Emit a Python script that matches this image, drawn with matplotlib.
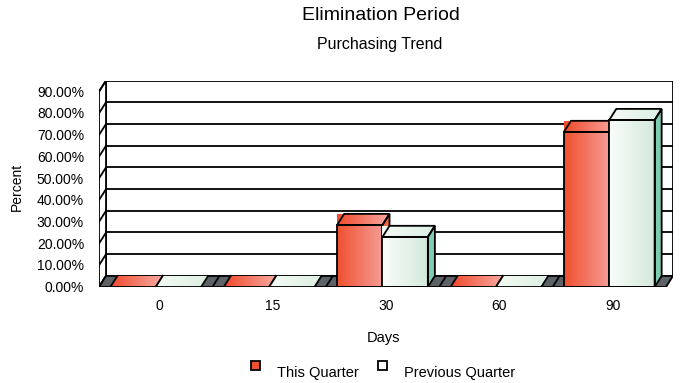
import numpy as np
import matplotlib
matplotlib.use("Agg")
import matplotlib.pyplot as plt
from matplotlib.patches import Polygon, Rectangle
from matplotlib.colors import to_rgb

plt.rcParams["font.family"] = ["Liberation Sans", "DejaVu Sans"]

days = ["0", "15", "30", "60", "90"]
this_quarter = [0.0, 0.0, 28.57, 0.0, 71.43]
previous_quarter = [0.0, 0.0, 23.08, 0.0, 76.92]
y_ticks = [0, 10, 20, 30, 40, 50, 60, 70, 80, 90]
y_labels = ["%.2f%%" % v for v in y_ticks]

# pseudo-3d depth offsets in data units
DX = 0.062
DY = 5.1
BAR_W = 0.4
X0, X1 = -0.5, len(days) - 0.5
YMAX = 90

RED = dict(front=("#f0502f", "#f59c96"), top=("#f04a2c", "#f8aaa2"), side="#f2644a")
GREEN = dict(front=("#fafdfa", "#d3e9db"), top=("#f4faf5", "#dcefe3"), side="#80cbb3")
FLOOR = "#5d6267"
LW = 1.3

W, H = 680, 383
fig = plt.figure(figsize=(W / 100, H / 100), dpi=100)
left_px, right_px, bottom_px, top_px = 99, 673, 287, 80.5
ax = fig.add_axes([left_px / W, 1 - bottom_px / H,
                   (right_px - left_px) / W, (bottom_px - top_px) / H])


def grad_fill(verts, c0, c1, z):
    verts = np.asarray(verts)
    poly = Polygon(verts, closed=True, transform=ax.transData)
    t = np.linspace(0, 1, 256)[None, :, None]
    img = np.array(to_rgb(c0))[None, None, :] * (1 - t) + np.array(to_rgb(c1))[None, None, :] * t
    im = ax.imshow(img, extent=[verts[:, 0].min(), verts[:, 0].max(),
                                verts[:, 1].min(), verts[:, 1].max()],
                   aspect="auto", interpolation="bilinear", zorder=z, origin="lower")
    im.set_clip_path(poly)


def outline(verts, z):
    ax.add_patch(Polygon(verts, closed=True, fill=False, edgecolor="black",
                         linewidth=LW, zorder=z, joinstyle="miter"))


def bar3d(left, h, style, z):
    r = left + BAR_W
    if h <= 0:
        top = [(left, 0), (r, 0), (r + DX, DY), (left + DX, DY)]
        grad_fill(top, style["top"][0], style["top"][1], z)
        ax.plot([left, left + DX], [0, DY], color="black", lw=LW, zorder=z + 0.5)
        ax.plot([r, r + DX], [0, DY], color="black", lw=LW, zorder=z + 0.5)
        return
    # top face (filled over its bounding box, side face covers the right part)
    grad_fill([(left, h), (r + DX, h), (r + DX, h + DY), (left, h + DY)],
              style["top"][0], style["top"][1], z)
    side = [(r, 0), (r + DX, DY), (r + DX, h + DY), (r, h)]
    ax.add_patch(Polygon(side, closed=True, facecolor=style["side"],
                         edgecolor="none", zorder=z + 0.1))
    front = [(left, 0), (r, 0), (r, h), (left, h)]
    grad_fill(front, style["front"][0], style["front"][1], z + 0.2)
    outline([(left, h), (r, h), (r + DX, h + DY), (left + DX, h + DY)], z + 0.5)
    outline(side, z + 0.5)
    outline(front, z + 0.5)


# back wall with gridlines
ax.add_patch(Rectangle((X0 + DX, DY), X1 - X0, YMAX, facecolor="white",
                       edgecolor="black", linewidth=LW, zorder=1))
for v in y_ticks:
    ax.plot([X0 + DX, X1 + DX], [v + DY, v + DY], color="black", lw=LW, zorder=1.2)

# left wall
ax.add_patch(Polygon([(X0, 0), (X0, YMAX), (X0 + DX, YMAX + DY), (X0 + DX, DY)],
                     closed=True, facecolor="white", edgecolor="black",
                     linewidth=LW, zorder=1.5))
for v in y_ticks:
    ax.plot([X0, X0 + DX], [v, v + DY], color="black", lw=LW, zorder=1.6)

# floor
ax.add_patch(Polygon([(X0, 0), (X1, 0), (X1 + DX, DY), (X0 + DX, DY)],
                     closed=True, facecolor=FLOOR, edgecolor="black",
                     linewidth=LW, zorder=2))
for k in range(1, len(days)):
    xb = X0 + k
    ax.plot([xb, xb + DX], [0, DY], color="black", lw=LW, zorder=2.1)

x = np.arange(len(days))
for i in range(len(days)):
    bar3d(x[i] - BAR_W, this_quarter[i], RED, 3 + i)
    bar3d(x[i], previous_quarter[i], GREEN, 3.5 + i)

ax.plot([X0, X1], [0, 0], color="black", lw=LW, zorder=20)

ax.set_xlim(X0, X1 + DX)
ax.set_ylim(0, YMAX + DY)
ax.axis("off")

# axis text
for i, d in enumerate(days):
    ax.text(x[i] + DX / 2, -8.6, d, ha="center", va="center", fontsize=10)
for v, lab in zip(y_ticks, y_labels):
    fig.text(84 / W, 1 - (287 - v * 2.17 + 1) / H, lab, ha="right", va="center",
             fontsize=10)
fig.text(17 / W, 1 - 187 / H, "Percent", rotation=90, ha="center", va="center",
         fontsize=10)
fig.text(383 / W, 1 - 338 / H, "Days", ha="center", va="center", fontsize=10.5)

fig.text(381 / W, 1 - 16 / H, "Elimination Period", ha="center", va="center",
         fontsize=14)
fig.text(380 / W, 1 - 44 / H, "Purchasing Trend", ha="center", va="center",
         fontsize=11.5)

# legend
for x_px, lab, st in [(251, "This Quarter", RED), (378, "Previous Quarter", GREEN)]:
    fig.patches.append(Rectangle((x_px / W, 1 - 370 / H), 9 / W, 9.5 / H,
                                 transform=fig.transFigure, facecolor=st["front"][0],
                                 edgecolor="black", linewidth=LW))
    fig.text((x_px + 26) / W, 1 - 373 / H, lab, ha="left", va="center", fontsize=10.5)

fig.savefig("out.png", dpi=100)
